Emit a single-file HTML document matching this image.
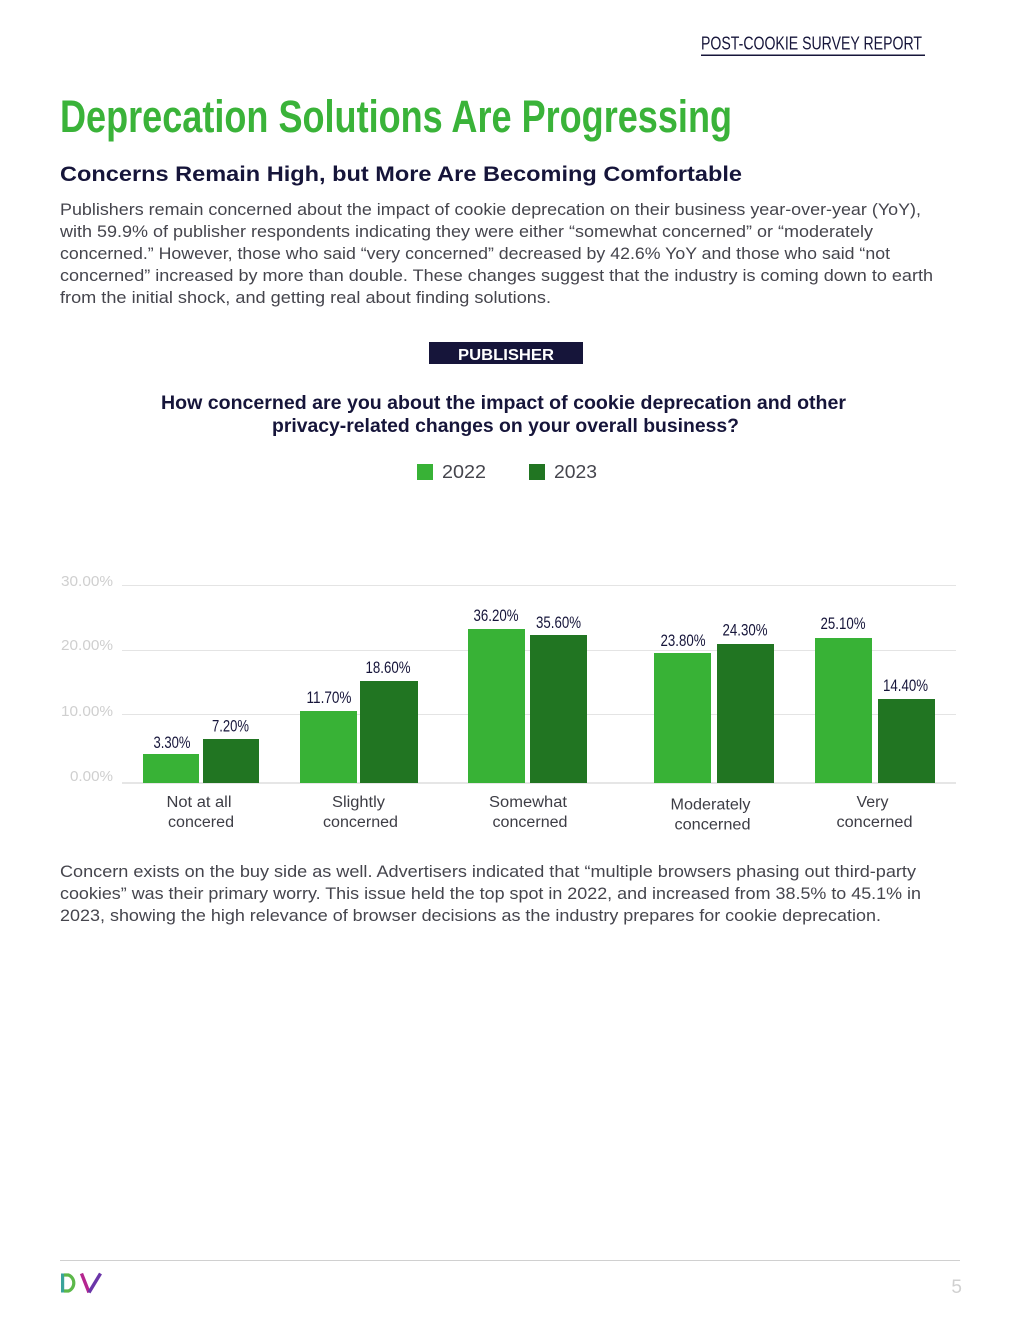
<!DOCTYPE html>
<html>
<head>
<meta charset="utf-8">
<style>
  html, body { margin:0; padding:0; background:#ffffff; }
  body { width:1020px; height:1320px; overflow:hidden; }
  svg { display:block; }
  text { font-family: "Liberation Sans", "DejaVu Sans", sans-serif; }
</style>
</head>
<body>
<svg width="1020" height="1320" viewBox="0 0 1020 1320" xmlns="http://www.w3.org/2000/svg">
  <rect x="0" y="0" width="1020" height="1320" fill="#ffffff"/>

  <!-- Header -->
  <text x="701" y="49.5" font-size="18" fill="#16153a" textLength="221" lengthAdjust="spacingAndGlyphs">POST-COOKIE SURVEY REPORT</text>
  <rect x="701" y="54.5" width="224" height="1.5" fill="#16153a"/>

  <!-- Title -->
  <text x="60" y="132" font-size="45" font-weight="bold" fill="#3ab339" textLength="672" lengthAdjust="spacingAndGlyphs">Deprecation Solutions Are Progressing</text>

  <!-- Subtitle -->
  <text x="60" y="181" font-size="21" font-weight="bold" fill="#16153a" textLength="682" lengthAdjust="spacingAndGlyphs">Concerns Remain High, but More Are Becoming Comfortable</text>

  <!-- Paragraph 1 -->
  <g font-size="17" fill="#45454d">
    <text x="60" y="215" textLength="861" lengthAdjust="spacingAndGlyphs">Publishers remain concerned about the impact of cookie deprecation on their business year-over-year (YoY),</text>
    <text x="60" y="237" textLength="813" lengthAdjust="spacingAndGlyphs">with 59.9% of publisher respondents indicating they were either “somewhat concerned” or “moderately</text>
    <text x="60" y="259" textLength="830" lengthAdjust="spacingAndGlyphs">concerned.” However, those who said “very concerned” decreased by 42.6% YoY and those who said “not</text>
    <text x="60" y="281" textLength="873" lengthAdjust="spacingAndGlyphs">concerned” increased by more than double. These changes suggest that the industry is coming down to earth</text>
    <text x="60" y="303" textLength="491" lengthAdjust="spacingAndGlyphs">from the initial shock, and getting real about finding solutions.</text>
  </g>

  <!-- Publisher badge -->
  <rect x="429" y="342" width="154" height="22" fill="#16153a"/>
  <text x="506" y="360" font-size="16" font-weight="bold" fill="#ffffff" text-anchor="middle" textLength="96" lengthAdjust="spacingAndGlyphs">PUBLISHER</text>

  <!-- Question -->
  <g font-size="19.5" font-weight="bold" fill="#16153a">
    <text x="161" y="409" textLength="685" lengthAdjust="spacingAndGlyphs">How concerned are you about the impact of cookie deprecation and other</text>
    <text x="272" y="432" textLength="467" lengthAdjust="spacingAndGlyphs">privacy-related changes on your overall business?</text>
  </g>

  <!-- Legend -->
  <rect x="417" y="464" width="16" height="16" fill="#38b236"/>
  <text x="442" y="478" font-size="18" fill="#45454d" textLength="44" lengthAdjust="spacingAndGlyphs">2022</text>
  <rect x="529" y="464" width="16" height="16" fill="#217522"/>
  <text x="554" y="478" font-size="18" fill="#45454d" textLength="43" lengthAdjust="spacingAndGlyphs">2023</text>

  <!-- Gridlines -->
  <g stroke="#e4e4e4" stroke-width="1">
    <line x1="122" y1="585.5" x2="956" y2="585.5"/>
    <line x1="122" y1="650.5" x2="956" y2="650.5"/>
    <line x1="122" y1="714.5" x2="956" y2="714.5"/>
  </g>
  <line x1="122" y1="783" x2="956" y2="783" stroke="#d8d8d8" stroke-width="1.2"/>

  <!-- Y axis labels -->
  <g font-size="15" fill="#cfcfcf" text-anchor="end">
    <text x="113" y="586" textLength="52" lengthAdjust="spacingAndGlyphs">30.00%</text>
    <text x="113" y="650" textLength="52" lengthAdjust="spacingAndGlyphs">20.00%</text>
    <text x="113" y="716" textLength="52" lengthAdjust="spacingAndGlyphs">10.00%</text>
    <text x="113" y="781" textLength="43" lengthAdjust="spacingAndGlyphs">0.00%</text>
  </g>

  <!-- Bars -->
  <g fill="#38b236">
    <rect x="143" y="754" width="56" height="29"/>
    <rect x="300" y="711" width="57" height="72"/>
    <rect x="468" y="629" width="57" height="154"/>
    <rect x="654" y="653" width="57" height="130"/>
    <rect x="815" y="638" width="57" height="145"/>
  </g>
  <g fill="#217522">
    <rect x="203" y="739" width="56" height="44"/>
    <rect x="360" y="681" width="58" height="102"/>
    <rect x="530" y="635" width="57" height="148"/>
    <rect x="717" y="644" width="57" height="139"/>
    <rect x="878" y="699" width="57" height="84"/>
  </g>

  <!-- Value labels -->
  <g font-size="16.5" fill="#16153a" text-anchor="middle">
    <text x="172" y="748" textLength="37" lengthAdjust="spacingAndGlyphs">3.30%</text>
    <text x="230.5" y="731.5" textLength="37" lengthAdjust="spacingAndGlyphs">7.20%</text>
    <text x="329" y="703" textLength="45" lengthAdjust="spacingAndGlyphs">11.70%</text>
    <text x="388" y="673" textLength="45" lengthAdjust="spacingAndGlyphs">18.60%</text>
    <text x="496" y="621" textLength="45" lengthAdjust="spacingAndGlyphs">36.20%</text>
    <text x="558.5" y="628" textLength="45" lengthAdjust="spacingAndGlyphs">35.60%</text>
    <text x="683" y="646" textLength="45" lengthAdjust="spacingAndGlyphs">23.80%</text>
    <text x="745" y="635.5" textLength="45" lengthAdjust="spacingAndGlyphs">24.30%</text>
    <text x="843" y="629" textLength="45" lengthAdjust="spacingAndGlyphs">25.10%</text>
    <text x="905.5" y="691" textLength="45" lengthAdjust="spacingAndGlyphs">14.40%</text>
  </g>

  <!-- Category labels -->
  <g font-size="15.5" fill="#3d3d45" text-anchor="middle">
    <text x="199" y="807" textLength="65" lengthAdjust="spacingAndGlyphs">Not at all</text>
    <text x="201" y="827" textLength="66" lengthAdjust="spacingAndGlyphs">concered</text>
    <text x="358.5" y="807" textLength="53" lengthAdjust="spacingAndGlyphs">Slightly</text>
    <text x="360.5" y="827" textLength="75" lengthAdjust="spacingAndGlyphs">concerned</text>
    <text x="528" y="807" textLength="78" lengthAdjust="spacingAndGlyphs">Somewhat</text>
    <text x="530" y="827" textLength="75" lengthAdjust="spacingAndGlyphs">concerned</text>
    <text x="710.5" y="809.5" textLength="80" lengthAdjust="spacingAndGlyphs">Moderately</text>
    <text x="712.5" y="829.5" textLength="76" lengthAdjust="spacingAndGlyphs">concerned</text>
    <text x="872.5" y="807" textLength="32" lengthAdjust="spacingAndGlyphs">Very</text>
    <text x="874.5" y="827" textLength="76" lengthAdjust="spacingAndGlyphs">concerned</text>
  </g>

  <!-- Paragraph 2 -->
  <g font-size="17" fill="#45454d">
    <text x="60" y="877" textLength="856" lengthAdjust="spacingAndGlyphs">Concern exists on the buy side as well. Advertisers indicated that “multiple browsers phasing out third-party</text>
    <text x="60" y="899" textLength="861" lengthAdjust="spacingAndGlyphs">cookies” was their primary worry. This issue held the top spot in 2022, and increased from 38.5% to 45.1% in</text>
    <text x="60" y="921" textLength="821" lengthAdjust="spacingAndGlyphs">2023, showing the high relevance of browser decisions as the industry prepares for cookie deprecation.</text>
  </g>

  <!-- Footer -->
  <line x1="60" y1="1260.5" x2="960" y2="1260.5" stroke="#d0d0d0" stroke-width="1"/>
  <!-- DV logo -->
  <rect x="61" y="1273.5" width="3.2" height="19" fill="#3aa39a"/>
  <path d="M64 1275 L68.5 1275 A8 8.5 0 0 1 68.5 1291 L64 1291" fill="none" stroke="#5cb84a" stroke-width="3.2"/>
  <path d="M81.5 1273.5 L89 1292.5" stroke="#b5258f" stroke-width="3.4" fill="none"/>
  <path d="M89 1292.5 L100.5 1273.5" stroke="#6a35a8" stroke-width="3.4" fill="none"/>
  <text x="962" y="1293" font-size="19" fill="#d0d0d0" text-anchor="end">5</text>
</svg>
</body>
</html>
